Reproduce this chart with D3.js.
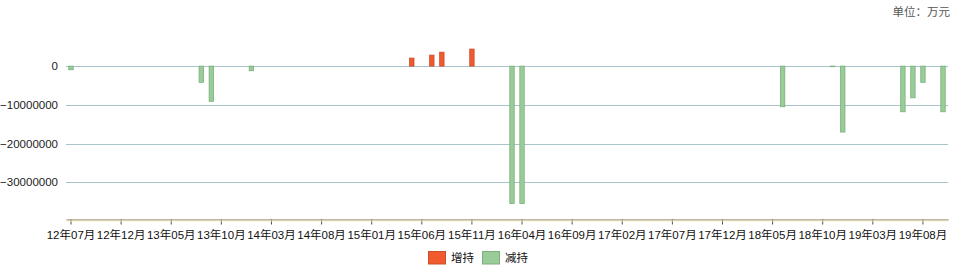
<!DOCTYPE html>
<html><head><meta charset="utf-8">
<script src="https://cdn.jsdelivr.net/npm/d3@7/dist/d3.min.js"></script>
<style>body{margin:0;background:#fff}svg{display:block}</style>
</head><body><svg id="c" width="959" height="278"></svg>
<script>
// Months 2012-07 .. 2019-10
const months = [];
for (let y = 2012, m = 7; y < 2019 || (y === 2019 && m <= 10); m++) {
  if (m > 12) { m = 1; y++; }
  if (y === 2019 && m > 10) break;
  months.push(String(y % 100) + "年" + String(m).padStart(2, "0") + "月");
}
const increaseMonths = ["15年05月","15年07月","15年08月","15年11月"];
const increaseValues = [2070000, 2840000, 3600000, 4400000];
const decreaseMonths = ["12年07月","13年08月","13年09月","14年01月","16年03月","16年04月","18年06月","18年11月","18年12月","19年06月","19年07月","19年08月","19年10月"];
const decreaseValues = [-950000, -4200000, -9100000, -1200000, -35500000, -35500000, -10500000, -150000, -17050000, -11800000, -8200000, -4200000, -11800000];
const yTicks = [0, -10000000, -20000000, -30000000];
const tickLabels = ["12年07月","12年12月","13年05月","13年10月","14年03月","14年08月","15年01月","15年06月","15年11月","16年04月","16年09月","17年02月","17年07月","17年12月","18年05月","18年10月","19年03月","19年08月"];
const seriesNames = ["增持","减持"];
const colors = {fill:["#f05a2e","#99cc99"], stroke:["#c8502a","#7ab07a"]};

const svg = d3.select("#c");
const left = 66, right = 948, bottom = 219.5;
const x = d3.scaleBand().domain(months).range([left, right]);
const y = d3.scaleLinear().domain([-30000000, 0]).range([182.2, 66.1]);
const barW = x.bandwidth() * 0.44;

// gridlines
svg.append("g").selectAll("line").data(yTicks).join("line")
  .attr("x1", left).attr("x2", right)
  .attr("y1", d => Math.round(y(d)) + 0.5).attr("y2", d => Math.round(y(d)) + 0.5)
  .attr("stroke", "#a9c3cc").attr("stroke-width", 1);

// y labels
svg.append("g").selectAll("text").data(yTicks).join("text")
  .attr("x", 58).attr("y", d => y(d)).attr("dy", "0.35em")
  .attr("text-anchor", "end")
  .attr("font-family", "Liberation Sans, Arial, sans-serif").attr("font-size", 11.5)
  .attr("fill", "#222").text(d => d3.format("d")(d));

// bars
function drawBars(ms, vs, i) {
  svg.append("g").selectAll("rect").data(ms.map((m, k) => ({m, v: vs[k]}))).join("rect")
    .attr("x", d => x(d.m) + x.bandwidth() / 2 - barW / 2)
    .attr("width", barW)
    .attr("y", d => Math.min(y(d.v), y(0)))
    .attr("height", d => Math.max(0.6, Math.abs(y(d.v) - y(0))))
    .attr("fill", colors.fill[i]).attr("stroke", colors.stroke[i]).attr("stroke-width", 0.8);
}
drawBars(increaseMonths, increaseValues, 0);
drawBars(decreaseMonths, decreaseValues, 1);

// x axis
const xAxis = d3.axisBottom(x).tickValues(tickLabels).tickSize(5).tickSizeOuter(0).tickPadding(6);
const gx = svg.append("g").attr("transform", `translate(0,${bottom})`).call(xAxis);
gx.select(".domain").attr("stroke", "#7d6d3e");
gx.selectAll(".tick line").attr("stroke", "#5a5030");
gx.selectAll("text").attr("font-family", "Liberation Sans, 'Noto Sans CJK SC', sans-serif")
  .attr("font-size", 11.5).attr("fill", "#111");
svg.append("line").attr("x1", left).attr("x2", right).attr("y1", bottom + 1.5).attr("y2", bottom + 1.5)
  .attr("stroke", "#f5efd0").attr("stroke-width", 1);

// unit
svg.append("text").attr("x", 950).attr("y", 16).attr("text-anchor", "end")
  .attr("font-family", "'Noto Sans CJK SC', sans-serif").attr("font-size", 11.5)
  .attr("fill", "#555").text("单位：万元");

// legend
const lg = svg.append("g");
const lx = [428, 482];
seriesNames.forEach((n, i) => {
  lg.append("rect").attr("x", lx[i] + 0.5).attr("y", 251.5).attr("width", 17).attr("height", 12.5)
    .attr("fill", colors.fill[i]).attr("stroke", colors.stroke[i]);
  lg.append("text").attr("x", lx[i] + 23).attr("y", 257.5).attr("dy", "0.35em")
    .attr("font-family", "'Noto Sans CJK SC', sans-serif").attr("font-size", 11.5)
    .attr("fill", "#111").text(n);
});
</script></body></html>
